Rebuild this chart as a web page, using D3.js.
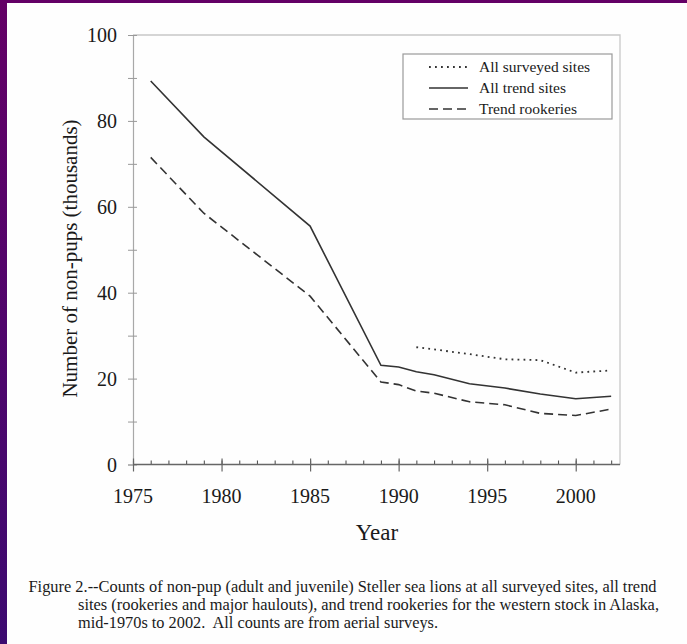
<!DOCTYPE html>
<html><head><meta charset="utf-8">
<script src="https://cdn.jsdelivr.net/npm/d3@7"></script>
<style>
html,body{margin:0;padding:0;background:#fff;}
svg{display:block;}
text{font-family:"Liberation Serif","Times New Roman",serif;fill:#1a1a1a;white-space:pre;}
</style></head>
<body>
<script>
// ---- data ----
const trendYears = [1976, 1979, 1985, 1989, 1990, 1991, 1992, 1994, 1996, 1998, 2000, 2002];
const allTrendSites = [89.3, 76.3, 55.5, 23.1, 22.7, 21.6, 20.9, 18.8, 17.8, 16.4, 15.3, 15.9];
const trendRookeries = [71.5, 58.5, 39.2, 19.2, 18.6, 17.1, 16.6, 14.6, 13.9, 11.9, 11.4, 12.9];
const surveyYears = [1991, 1992, 1994, 1996, 1998, 2000, 2002];
const allSurveyedSites = [27.3, 26.8, 25.7, 24.5, 24.3, 21.4, 21.9];
const xTickLabels = [1975, 1980, 1985, 1990, 1995, 2000];
const yTickLabels = [0, 20, 40, 60, 80, 100];
const legendLabels = ["All surveyed sites", "All trend sites", "Trend rookeries"];
const captionLines = [
  "Figure 2.--Counts of non-pup (adult and juvenile) Steller sea lions at all surveyed sites, all trend",
  "sites (rookeries and major haulouts), and trend rookeries for the western stock in Alaska,",
  "mid-1970s to 2002.  All counts are from aerial surveys."
];

const W = 687, H = 644;
const svg = d3.select("body").append("svg").attr("width", W).attr("height", H);

// purple frame
const defs = svg.append("defs");
const g1 = defs.append("linearGradient").attr("id","pg").attr("x1",0).attr("y1",0).attr("x2",0).attr("y2",1);
g1.append("stop").attr("offset","0%").attr("stop-color","#640066");
g1.append("stop").attr("offset","100%").attr("stop-color","#3c0a70");
svg.append("rect").attr("x",0).attr("y",0).attr("width",W).attr("height",H).attr("fill","url(#pg)");
svg.append("rect").attr("x",7).attr("y",3).attr("width",W-7).attr("height",H-3).attr("fill","#fefefe");

const x = d3.scaleLinear().domain([1975, 2002.5]).range([133, 620]);
const y = d3.scaleLinear().domain([0, 100]).range([464.5, 35]);

// plot frame (top/right)
svg.append("path")
  .attr("d", `M${x(1975)},${y(100)}H${x(2002.5)}V${y(0)}`)
  .attr("fill","none").attr("stroke","#c8c8c8").attr("stroke-width",1.3);

// y axis
const yAxis = d3.axisLeft(y).tickValues(d3.range(0,101,10)).tickSize(5).tickFormat("");
const ga = svg.append("g").attr("transform",`translate(${x(1975)},0)`).call(yAxis);
ga.select(".domain").attr("stroke","#a8a8a8").attr("stroke-width",1.2);
ga.selectAll(".tick line").attr("stroke","#999").attr("x2",-5).attr("x1",4);
svg.append("g").selectAll("text").data(yTickLabels).join("text")
  .attr("x",117).attr("y",d=>y(d)+7).attr("text-anchor","end")
  .style("font-size","20px").text(d=>d);

// x axis
const xAxisMinor = d3.axisBottom(x).tickValues(d3.range(1975,2003,1)).tickSize(-4).tickFormat("");
const gx = svg.append("g").attr("transform",`translate(0,${y(0)})`).call(xAxisMinor);
gx.select(".domain").remove();
gx.selectAll(".tick line").attr("stroke","#555").attr("stroke-width",1.1);
svg.append("line").attr("x1",x(1975)).attr("x2",x(2002.5)).attr("y1",y(0)).attr("y2",y(0))
  .attr("stroke","#666").attr("stroke-width",1.3);
const xAxisMajor = d3.axisBottom(x).tickValues(xTickLabels).tickSize(7).tickFormat("");
const gx2 = svg.append("g").attr("transform",`translate(0,${y(0)})`).call(xAxisMajor);
gx2.select(".domain").remove();
gx2.selectAll(".tick line").attr("stroke","#666").attr("stroke-width",1.2).attr("y1",-6);
svg.append("g").selectAll("text").data(xTickLabels).join("text")
  .attr("x",d=>x(d)).attr("y",503).attr("text-anchor","middle")
  .style("font-size","20px").text(d=>d);

// axis titles
svg.append("text").attr("x",377).attr("y",540).attr("text-anchor","middle")
  .style("font-size","23px").text("Year");
svg.append("text").attr("transform","translate(77,258.5) rotate(-90)").attr("text-anchor","middle")
  .style("font-size","21px").text("Number of non-pups (thousands)");

// lines
const line = d3.line().x(d=>x(d[0])).y(d=>y(d[1]));
svg.append("path").datum(d3.zip(trendYears, allTrendSites)).attr("d", line)
  .attr("fill","none").attr("stroke","#333").attr("stroke-width",1.6);
svg.append("path").datum(d3.zip(trendYears, trendRookeries)).attr("d", line)
  .attr("fill","none").attr("stroke","#333").attr("stroke-width",1.6).attr("stroke-dasharray","9,5");
svg.append("path").datum(d3.zip(surveyYears, allSurveyedSites)).attr("d", line)
  .attr("fill","none").attr("stroke","#333").attr("stroke-width",1.8).attr("stroke-dasharray","1.8,4.2");

// legend
svg.append("rect").attr("x",403).attr("y",54).attr("width",209).attr("height",65)
  .attr("fill","#fff").attr("stroke","#9a9a9a").attr("stroke-width",1.2);
const dashes = ["1.8,4.2", null, "9,5"];
const lg = svg.append("g").selectAll("g").data(legendLabels).join("g")
  .attr("transform",(d,i)=>`translate(0,${67 + i*21})`);
lg.append("line").attr("x1",429).attr("x2",468).attr("y1",0).attr("y2",0)
  .attr("stroke","#333").attr("stroke-width",(d,i)=>i===0?1.8:1.6)
  .attr("stroke-dasharray",(d,i)=>dashes[i]);
lg.append("text").attr("x",479).attr("y",5).style("font-size","15.5px").text(d=>d);

// caption
const capX = [28.5, 78, 78];
const capY = [592, 610, 628];
const capW = [628, 581, 360];
svg.append("g").selectAll("text").data(captionLines).join("text")
  .attr("x",(d,i)=>capX[i]).attr("y",(d,i)=>capY[i])
  .attr("textLength",(d,i)=>capW[i]).attr("lengthAdjust","spacingAndGlyphs")
  .style("font-size","16px").text(d=>d);
</script>
</body></html>
